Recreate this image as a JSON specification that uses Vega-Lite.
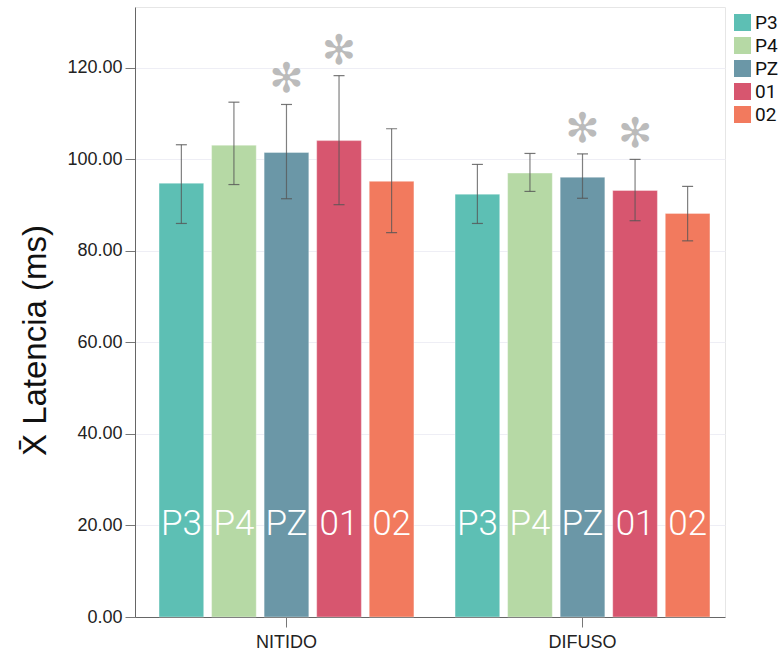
{
  "$schema": "https://vega.github.io/schema/vega-lite/v6.json",
  "width": 590,
  "height": 610,
  "autosize": {"type": "none"},
  "padding": {"left": 135, "top": 7, "right": 53, "bottom": 37},
  "background": "white",
  "config": {
    "view": {"stroke": "#e6e6e6", "strokeWidth": 1},
    "font": "Liberation Sans"
  },
  "data": {
    "values": [
      {"cond": "NITIDO", "sensor": "P3", "mean": 94.8, "lo": 86.0, "hi": 103.2, "sig": false},
      {"cond": "NITIDO", "sensor": "P4", "mean": 103.1, "lo": 94.5, "hi": 112.5, "sig": false},
      {"cond": "NITIDO", "sensor": "PZ", "mean": 101.5, "lo": 91.4, "hi": 112.0, "sig": true},
      {"cond": "NITIDO", "sensor": "01", "mean": 104.1, "lo": 90.1, "hi": 118.3, "sig": true},
      {"cond": "NITIDO", "sensor": "02", "mean": 95.2, "lo": 84.0, "hi": 106.7, "sig": false},
      {"cond": "DIFUSO", "sensor": "P3", "mean": 92.4, "lo": 86.0, "hi": 98.9, "sig": false},
      {"cond": "DIFUSO", "sensor": "P4", "mean": 97.0, "lo": 93.0, "hi": 101.3, "sig": false},
      {"cond": "DIFUSO", "sensor": "PZ", "mean": 96.1, "lo": 91.5, "hi": 101.2, "sig": true},
      {"cond": "DIFUSO", "sensor": "01", "mean": 93.2, "lo": 86.6, "hi": 100.0, "sig": true},
      {"cond": "DIFUSO", "sensor": "02", "mean": 88.2, "lo": 82.2, "hi": 94.1, "sig": false}
    ]
  },
  "encoding": {
    "x": {
      "field": "cond",
      "type": "nominal",
      "sort": ["NITIDO", "DIFUSO"],
      "scale": {"paddingInner": 0.139, "paddingOuter": 0.066, "align": 0.615},
      "axis": {
        "title": null,
        "labelAngle": 0,
        "labelFont": "Liberation Sans",
        "labelFontSize": 18,
        "labelColor": "#222222",
        "labelPadding": 6,
        "tickSize": 10,
        "tickColor": "#777777",
        "domainColor": "#666666",
        "grid": false
      }
    },
    "xOffset": {
      "field": "sensor",
      "type": "nominal",
      "sort": ["P3", "P4", "PZ", "01", "02"],
      "scale": {"paddingInner": 0.15, "paddingOuter": 0}
    }
  },
  "layer": [
    {
      "mark": {"type": "bar", "stroke": "white", "strokeOpacity": 0.35, "strokeWidth": 1},
      "encoding": {
        "y": {
          "field": "mean",
          "type": "quantitative",
          "scale": {"domain": [0, 133.3], "nice": false, "zero": true},
          "axis": {
            "title": "X̄ Latencia (ms)",
            "titleFont": "Liberation Sans",
            "titleFontSize": 33,
            "titleFontWeight": "normal",
            "titleColor": "#111111",
            "titleX": -90,
            "titleY": 333,
            "titleBaseline": "alphabetic",
            "values": [0, 20, 40, 60, 80, 100, 120],
            "format": ".2f",
            "labelFont": "Liberation Sans",
            "labelFontSize": 18,
            "labelColor": "#222222",
            "labelPadding": 3,
            "tickSize": 10,
            "tickColor": "#777777",
            "domainColor": "#666666",
            "gridColor": "#eeeef5",
            "gridWidth": 1
          }
        },
        "color": {
          "field": "sensor",
          "type": "nominal",
          "sort": ["P3", "P4", "PZ", "01", "02"],
          "scale": {
            "domain": ["P3", "P4", "PZ", "01", "02"],
            "range": ["#5dbfb4", "#b6d9a5", "#6b97a7", "#d7566f", "#f27a5e"]
          },
          "legend": {
            "title": null,
            "orient": "none",
            "legendX": 598,
            "legendY": 6,
            "symbolType": "square",
            "symbolSize": 289,
            "symbolStrokeWidth": 0,
            "labelFont": "Roboto",
            "labelFontSize": 19,
            "labelColor": "#111111",
            "labelOffset": 3,
            "rowPadding": 3
          }
        }
      }
    },
    {
      "mark": {"type": "rule", "color": "#555555", "opacity": 0.75, "strokeWidth": 1.2},
      "encoding": {
        "y": {"field": "lo", "type": "quantitative"},
        "y2": {"field": "hi"}
      }
    },
    {
      "mark": {"type": "tick", "color": "#555555", "opacity": 0.8, "size": 11, "thickness": 1.2},
      "encoding": {
        "y": {"field": "lo", "type": "quantitative"}
      }
    },
    {
      "mark": {"type": "tick", "color": "#555555", "opacity": 0.8, "size": 11, "thickness": 1.2},
      "encoding": {
        "y": {"field": "hi", "type": "quantitative"}
      }
    },
    {
      "transform": [{"filter": "datum.sig"}],
      "mark": {"type": "text", "text": "✻", "font": "DejaVu Sans", "fontSize": 41, "color": "#bbbbbb", "baseline": "middle", "dy": -24},
      "encoding": {
        "y": {"field": "hi", "type": "quantitative"}
      }
    },
    {
      "mark": {"type": "text", "font": "Roboto", "fontWeight": 300, "fontSize": 35, "color": "white", "baseline": "alphabetic", "dy": -82},
      "encoding": {
        "y": {"datum": 0},
        "text": {"field": "sensor"}
      }
    }
  ]
}
